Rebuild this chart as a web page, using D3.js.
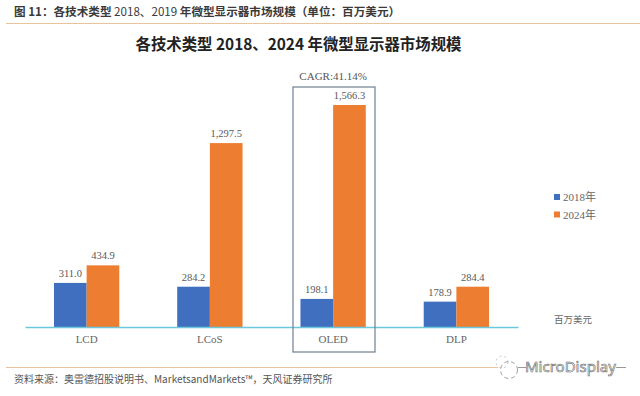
<!DOCTYPE html>
<html>
<head>
<meta charset="utf-8">
<script src="https://cdn.jsdelivr.net/npm/d3@7"></script>
<style>
body{margin:0;background:#fff;}
svg{display:block;}
.cjk{font-family:"Noto Sans CJK SC",sans-serif;}
.serif{font-family:"Liberation Serif","Noto Sans CJK SC",serif;}
</style>
</head>
<body>
<script>
var svg_width=640;
var svg_height=396;

var categories=["LCD","LCoS","OLED","DLP"];
var series_names=["2018年","2024年"];
var values_2018=[311.0,284.2,198.1,178.9];
var values_2024=[434.9,1297.5,1566.3,284.4];
var colors=["#3f6fbe","#ed7d31"];

var svg=d3.select("body")
    .append("svg")
    .attr("width",svg_width)
    .attr("height",svg_height);

var x=d3.scaleBand()
    .domain(categories)
    .range([25,518])
    .paddingInner(0.47)
    .paddingOuter(0.235);

var x_inner=d3.scaleBand()
    .domain(series_names)
    .range([0,x.bandwidth()]);

var y=d3.scaleLinear()
    .domain([0,1566.3])
    .range([327,105]);

// report header
var header=svg.append("text")
    .attr("class","cjk")
    .attr("x",14)
    .attr("y",16)
    .attr("font-size","11.6px")
    .attr("fill","#3a3a3a");
[["图 11：各技术类型 ","bold"],["2018、2019 ","normal"],["年微型显示器市场规模（单位：百万美元）","bold"]].forEach(function (p) {
    header.append("tspan").attr("font-weight",p[1]).text(p[0]);
});

svg.append("line")
    .attr("x1",6).attr("x2",640)
    .attr("y1",23.5).attr("y2",23.5)
    .attr("stroke","#e8c39e")
    .attr("stroke-width",1);

svg.append("text")
    .attr("class","cjk")
    .attr("x",298.5)
    .attr("y",49.5)
    .attr("text-anchor","middle")
    .attr("font-size","15.4px")
    .attr("font-weight","bold")
    .attr("fill","#222")
    .text("各技术类型 2018、2024 年微型显示器市场规模");

// bars
var groups=svg.selectAll("g.group")
    .data(categories)
    .enter()
    .append("g")
    .attr("class","group")
    .attr("transform",function (d) {
        return "translate("+x(d)+",0)";
    });

series_names.forEach(function (name,s) {
    var vals=s==0?values_2018:values_2024;
    groups.append("rect")
        .attr("x",x_inner(name))
        .attr("y",function (d,i) { return y(vals[i]); })
        .attr("width",x_inner.bandwidth())
        .attr("height",function (d,i) { return y(0)-y(vals[i]); })
        .attr("fill",colors[s]);
    groups.append("text")
        .attr("class","serif")
        .attr("x",x_inner(name)+x_inner.bandwidth()/2)
        .attr("y",function (d,i) { return y(vals[i])-6; })
        .attr("text-anchor","middle")
        .attr("font-size","10.5px")
        .attr("fill","#595959")
        .text(function (d,i) { return d3.format(",.1f")(vals[i]); });
});

// baseline and category labels
var xAxis=d3.axisBottom(x).tickSize(0).tickPadding(8);
var axis_g=svg.append("g")
    .attr("transform","translate(0,"+y(0)+")")
    .call(xAxis);
axis_g.select("path").attr("stroke","#6cc8dc").attr("stroke-width",1.5);
axis_g.selectAll("text")
    .style("font-family","'Liberation Serif',serif")
    .style("font-size","11px")
    .attr("fill","#666");

svg.append("text")
    .attr("class","cjk")
    .attr("x",573)
    .attr("y",323)
    .attr("text-anchor","middle")
    .attr("font-size","9.5px")
    .attr("fill","#666")
    .text("百万美元");

// OLED highlight box
svg.append("rect")
    .attr("x",293)
    .attr("y",87)
    .attr("width",82)
    .attr("height",265)
    .attr("fill","none")
    .attr("stroke","#6f8090")
    .attr("stroke-width",1.2);

svg.append("text")
    .attr("class","serif")
    .attr("x",x("OLED")+x.bandwidth()/2)
    .attr("y",80)
    .attr("text-anchor","middle")
    .attr("font-size","11px")
    .attr("fill","#555")
    .text("CAGR:41.14%");

// legend
var legend=svg.selectAll("g.legend")
    .data(series_names)
    .enter()
    .append("g")
    .attr("class","legend")
    .attr("transform",function (d,i) {
        return "translate(554,"+(197+i*17.5)+")";
    });
legend.append("rect")
    .attr("y",-3)
    .attr("width",6)
    .attr("height",6)
    .attr("fill",function (d,i) { return colors[i]; });
legend.append("text")
    .attr("class","serif")
    .attr("x",9)
    .attr("y",4)
    .attr("font-size","11px")
    .attr("fill","#666")
    .text(function (d) { return d; });

// footer
svg.append("line")
    .attr("x1",6).attr("x2",498)
    .attr("y1",367.5).attr("y2",367.5)
    .attr("stroke","#e8c39e");

svg.append("text")
    .attr("class","cjk")
    .attr("x",14)
    .attr("y",383)
    .attr("font-size","10px")
    .attr("fill","#555")
    .text("资料来源：奥雷德招股说明书、MarketsandMarkets™，天风证券研究所");

// watermark
svg.append("circle")
    .attr("cx",509)
    .attr("cy",370)
    .attr("r",8.5)
    .attr("fill","#fff")
    .attr("stroke","#888")
    .attr("stroke-width",0.8)
    .attr("stroke-dasharray","4,3");

svg.append("circle")
    .attr("cx",502)
    .attr("cy",362)
    .attr("r",6)
    .attr("fill","none")
    .attr("stroke","#aaa")
    .attr("stroke-width",0.7)
    .attr("stroke-dasharray","2,3");

svg.append("line")
    .attr("x1",518).attr("x2",526)
    .attr("y1",367.5).attr("y2",367.5)
    .attr("stroke","#999");

svg.append("line")
    .attr("x1",616).attr("x2",626)
    .attr("y1",367.5).attr("y2",367.5)
    .attr("stroke","#999");

svg.append("text")
    .attr("x",525)
    .attr("y",372)
    .attr("font-family","'Noto Sans',sans-serif")
    .attr("font-size","15px")
    .attr("fill","#fff")
    .attr("stroke","#666")
    .attr("stroke-width",0.6)
    .text("MicroDisplay");
</script>
</body>
</html>
